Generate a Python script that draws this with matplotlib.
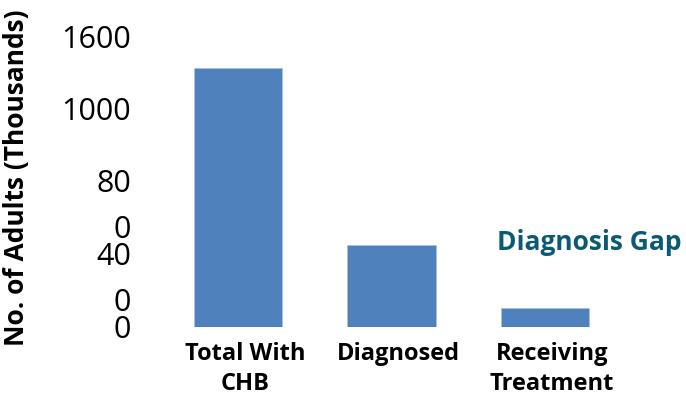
#!/usr/bin/env python3

import matplotlib
matplotlib.use("Agg")
import matplotlib.pyplot as plt
import matplotlib.transforms as mtransforms

categories = ["Total With\nCHB", "Diagnosed", "Receiving\nTreatment"]
adults = [1425, 450, 105]
ytick_values = [0, 400, 800, 1200, 1600]
ytick_labels = ["0", "40\n0", "80\n0", "1000", "1600"]

plt.rcParams["font.family"] = ["Open Sans", "DejaVu Sans"]

W, H = 686, 398
fig = plt.figure(figsize=(W / 100, H / 100), dpi=100)
left, right, bottom, top = 161.5, 621.5, 327, 36
ax = fig.add_axes([left / W, 1 - bottom / H, (right - left) / W, (bottom - top) / H])

positions = range(len(categories))
ax.bar(positions, adults, width=0.575, color="#4F81BD", edgecolor="#a9c0de",
       linewidth=0.6)
ax.set_xlim(-0.5, len(categories) - 0.5)
ax.set_ylim(0, 1600)

ax.set_xticks(list(positions))
ax.set_xticklabels(categories, fontsize=17, fontweight="bold", linespacing=1.3)
ax.set_yticks(ytick_values)
ax.set_yticklabels(ytick_labels, fontsize=22, linespacing=1.7)
ax.tick_params(axis="both", length=0)
ax.tick_params(axis="y", pad=22)
ax.tick_params(axis="x", pad=11)

# x labels sit a little right of the bar centres
for lab in ax.get_xticklabels():
    off = mtransforms.ScaledTranslation(7 / 100, 0, fig.dpi_scale_trans)
    lab.set_transform(lab.get_transform() + off)

# wrapped labels: first line sits on the tick
for lab in ax.get_yticklabels():
    if "\n" in lab.get_text():
        lab.set_va("top")
        off = mtransforms.ScaledTranslation(0, 9 / 72, fig.dpi_scale_trans)
        lab.set_transform(lab.get_transform() + off)

for side in ["top", "right", "left", "bottom"]:
    ax.spines[side].set_visible(False)

ax.set_ylabel("No. of Adults (Thousands)", fontsize=19, fontweight="bold")
ax.yaxis.set_label_coords((30 - left) / (right - left),
                          (bottom - 178) / (bottom - top))

fig.text(497 / W, 1 - 243 / H, "Diagnosis Gap", fontsize=19, fontweight="bold",
         color="#0b5a74", ha="left", va="center")

plt.savefig("out.png", dpi=100)
